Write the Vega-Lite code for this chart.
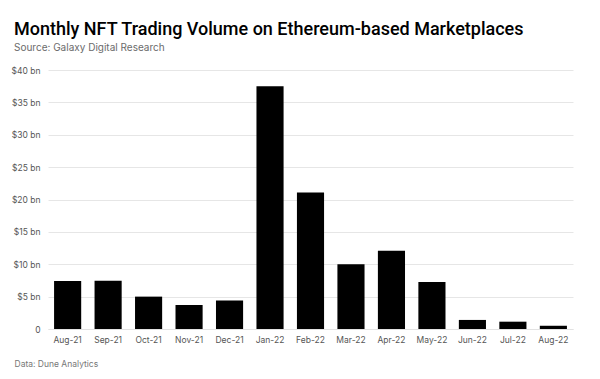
{
  "$schema": "https://vega.github.io/schema/vega-lite/v6.json",
  "width": 525,
  "height": 259,
  "autosize": {"type": "none"},
  "padding": {"left": 48, "top": 70, "right": 27, "bottom": 50},
  "background": "white",
  "title": {
    "text": "Monthly NFT Trading Volume on Ethereum-based Marketplaces",
    "subtitle": "Source: Galaxy Digital Research",
    "anchor": "start",
    "frame": "group",
    "dx": -34,
    "offset": 13,
    "font": "Roboto",
    "fontSize": 18,
    "fontWeight": 500,
    "color": "#000000",
    "subtitleFont": "Inter",
    "subtitleFontSize": 10,
    "subtitleColor": "#6b6b6b",
    "subtitlePadding": 4
  },
  "data": {
    "values": [
      {"month": "Aug-21", "volume": 7.4},
      {"month": "Sep-21", "volume": 7.45},
      {"month": "Oct-21", "volume": 5.0},
      {"month": "Nov-21", "volume": 3.7},
      {"month": "Dec-21", "volume": 4.4},
      {"month": "Jan-22", "volume": 37.5},
      {"month": "Feb-22", "volume": 21.1},
      {"month": "Mar-22", "volume": 10.0},
      {"month": "Apr-22", "volume": 12.1},
      {"month": "May-22", "volume": 7.26},
      {"month": "Jun-22", "volume": 1.4},
      {"month": "Jul-22", "volume": 1.13},
      {"month": "Aug-22", "volume": 0.5}
    ]
  },
  "mark": {"type": "bar", "color": "#000000"},
  "encoding": {
    "x": {
      "field": "month",
      "type": "nominal",
      "sort": null,
      "scale": {"paddingInner": 0.33, "paddingOuter": 0.15},
      "axis": {
        "title": "Data: Dune Analytics",
        "titleAnchor": "start",
        "titleAlign": "left",
        "titleX": -34,
        "titleY": 30,
        "titleFont": "Inter",
        "titleFontSize": 8.5,
        "titleFontWeight": "normal",
        "titleColor": "#777777",
        "labelAngle": 0,
        "labelFont": "Inter",
        "labelFontSize": 8.5,
        "labelColor": "#555555",
        "labelPadding": 6,
        "domainColor": "#e2e2e2",
        "ticks": false,
        "grid": false
      }
    },
    "y": {
      "field": "volume",
      "type": "quantitative",
      "scale": {"domain": [0, 40], "nice": false},
      "axis": {
        "title": null,
        "values": [0, 5, 10, 15, 20, 25, 30, 35, 40],
        "labelExpr": "datum.value == 0 ? '0' : '$' + datum.value + ' bn'",
        "labelFont": "Inter",
        "labelFontSize": 8.5,
        "labelColor": "#555555",
        "labelPadding": 8,
        "domain": false,
        "ticks": false,
        "grid": true,
        "gridColor": "#e6e6e6",
        "gridWidth": 1
      }
    }
  },
  "config": {"view": {"stroke": null}}
}
